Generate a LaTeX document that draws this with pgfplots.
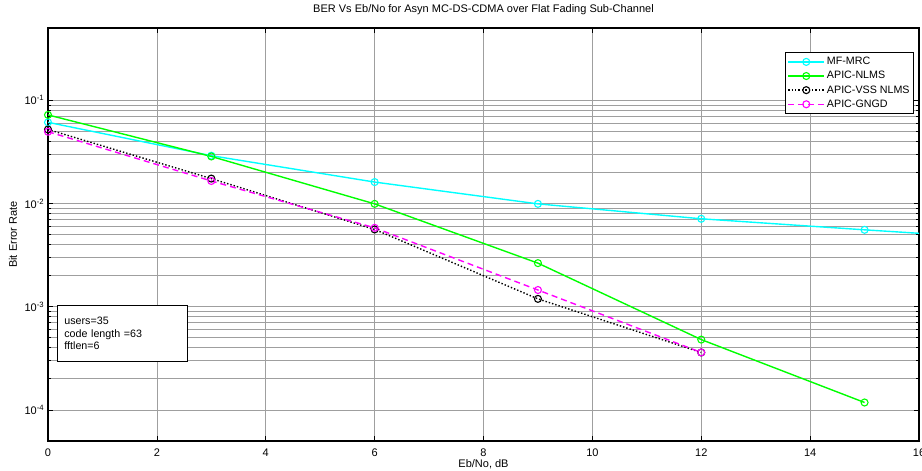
\documentclass[border=0pt]{standalone}
\usepackage{fontspec}
\setmainfont{Liberation Sans}
\usepackage{pgfplots}
\pgfplotsset{compat=1.18}
\definecolor{mcyan}{RGB}{0,255,255}
\definecolor{mgreen}{RGB}{0,255,0}
\definecolor{mmag}{RGB}{255,0,255}
\pgfplotstableread{
x y
0 0.061
3 0.029
6 0.0161
9 0.0099
12 0.0071
15 0.00555
18 0.0044
}\mfmrc
\pgfplotstableread{
x y
0 0.072
3 0.0285
6 0.0099
9 0.00264
12 0.00048
15 0.000118
}\nlms
\pgfplotstableread{
x y
0 0.052
3 0.0174
6 0.0056
9 0.00119
12 0.00036
}\vss
\pgfplotstableread{
x y
0 0.0495
3 0.0165
6 0.0058
9 0.00145
12 0.00036
}\gngd
\begin{document}
\fontsize{11}{13}\selectfont
\begin{tikzpicture}
\useasboundingbox (-48pt,-30pt) rectangle (874pt,441pt);
\begin{axis}[
  scale only axis, width=871pt, height=413pt,
  ymode=log, xmin=0, xmax=16, ymin=5e-5, ymax=0.5,
  xtick={0,2,...,16},
  ytick={1e-4,1e-3,1e-2,1e-1},
  yticklabels={10\textsuperscript{-4},10\textsuperscript{-3},10\textsuperscript{-2},10\textsuperscript{-1}},
  /pgf/number format/assume math mode=true,
  tick align=inside,
  major tick length=5pt, minor tick length=3pt,
  tick style={black, line width=0.7pt},
  axis line style={black, line width=1.2pt},
  grid=both,
  major grid style={gray!75, line width=0.7pt},
  minor grid style={gray!75, line width=0.7pt},
  ticklabel style={font=\fontsize{11}{13}\selectfont},
  xticklabel style={anchor=base, yshift=-15pt},
  title={BER Vs Eb/No for Asyn MC-DS-CDMA over Flat Fading Sub-Channel},
  title style={at={(axis description cs:0.5,1.0218)}, anchor=base, font=\fontsize{11}{13}\selectfont},
  xlabel={Eb/No, dB},
  xlabel style={at={(axis description cs:0.5,-0.063)}, anchor=base, font=\fontsize{11}{13}\selectfont},
  ylabel={Bit Error Rate},
  ylabel style={at={(axis description cs:-0.0402,0.5)}, anchor=center, font=\fontsize{11}{13}\selectfont},
  legend style={at={(axis description cs:0.9943,0.942)}, anchor=north east, draw=black, line width=0.8pt,
    fill=white, font=\fontsize{10.7}{12}\selectfont, row sep=1pt, inner xsep=2pt, inner ysep=3pt, cells={anchor=west}},
  legend image code/.code={\draw[mark repeat=2,mark phase=2,#1] plot coordinates {(0pt,0pt) (18pt,0pt) (36pt,0pt)};},
  every axis plot/.append style={line width=1.4pt, mark=o, mark size=3.5pt},
]
\addplot[color=mcyan, mark options={solid, line width=1.1pt}] table {\mfmrc};
\addlegendentry{MF-MRC}
\addplot[color=mgreen, mark options={solid, line width=1.1pt}] table {\nlms};
\addlegendentry{APIC-NLMS}
\addplot[color=black, dotted, mark options={solid, line width=1.1pt}] table {\vss};
\addlegendentry{APIC-VSS NLMS}
\addplot[color=mmag, dash pattern=on 6pt off 4pt, mark options={solid, line width=1.1pt}] table {\gngd};
\addlegendentry{APIC-GNGD}
\node[draw=black, line width=0.8pt, fill=white, anchor=north west, align=left,
  minimum width=130pt, minimum height=56pt, text width=116pt, inner xsep=7pt,
  font=\fontsize{10.7}{12.7}\selectfont] at (axis description cs:0.01033,0.3293)
  {users=35\\code length =63\\fftlen=6};
\end{axis}
\end{tikzpicture}
\end{document}
